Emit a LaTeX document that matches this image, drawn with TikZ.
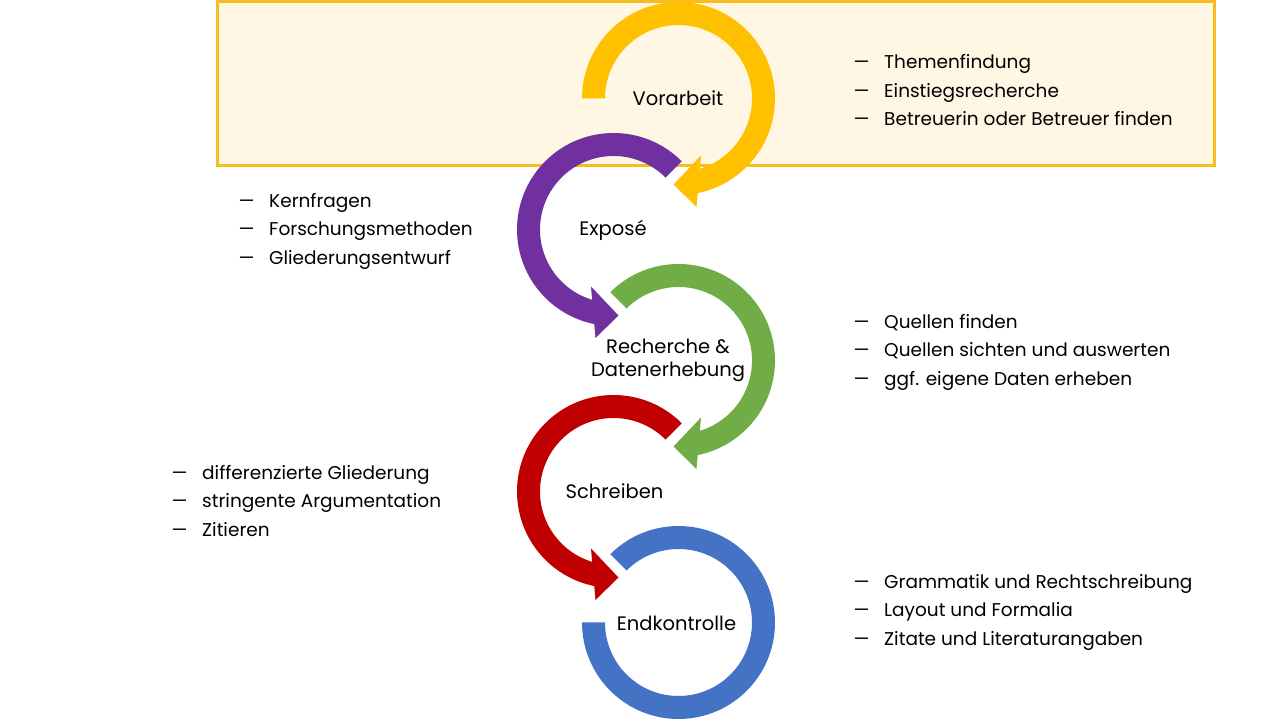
\documentclass[tikz,border=0pt]{standalone}
\usepackage{fontspec}
\setmainfont{Poppins}
\definecolor{cyellow}{HTML}{FFC000}
\definecolor{cpurple}{HTML}{7030A0}
\definecolor{cgreen}{HTML}{70AD47}
\definecolor{cred}{HTML}{C00000}
\definecolor{cblue}{HTML}{4472C4}
\definecolor{ccream}{HTML}{FFF6E3}
\definecolor{cborder}{HTML}{F5BD1F}
\newcommand\ringcw[3]{%
  \fill[#3,shift={#1}] (#2:96.5) arc[start angle=#2,end angle=-78.5,radius=96.5]
    -- (18,-108.5) -- (-5,-86) -- (22.5,-57) -- (-73.1:73.5)
    arc[start angle=-73.1,end angle=#2,radius=73.5] -- cycle;}
\newcommand\ringccw[3]{%
  \fill[#3,shift={#1}] (#2:96.5) arc[start angle=#2,end angle=258.5,radius=96.5]
    -- (-18,-108.5) -- (5,-86) -- (-22.5,-57) -- (253.1:73.5)
    arc[start angle=253.1,end angle=#2,radius=73.5] -- cycle;}
\newcommand\dashitem[1]{\makebox[31pt][l]{\scalebox{1.35}[1]{–}}#1}
\begin{document}
\begin{tikzpicture}[x=1pt,y=1pt,
  steplabel/.style={font=\fontsize{19.5}{23}\selectfont, align=center, inner sep=0, text=black},
  bullets/.style={font=\fontsize{18.5}{28.5}\selectfont, align=left, inner sep=0, anchor=west, text=black}]
\useasboundingbox (0,0) rectangle (1280,720);
\fill[white] (0,0) rectangle (1280,720);
\draw[cborder, line width=3, fill=ccream] (217,554.5) rectangle (1214,718.5);
% rings
\ringcw{(678.5,621.5)}{180}{cyellow}
\ringccw{(613.5,490.5)}{45}{cpurple}
\ringcw{(678.5,359.5)}{135}{cgreen}
\ringccw{(613.5,228.5)}{45}{cred}
\fill[cblue,shift={(678.5,97.5)}] (135:96.5) arc[start angle=135,end angle=-180,radius=96.5]
  -- (180:73.5) arc[start angle=-180,end angle=135,radius=73.5] -- cycle;
% labels
\node[steplabel] (vor) at (678,622) {Vorarbeit};
\node[steplabel] (exp) at (613,490) {Exposé};
\node[steplabel] (rec) at (668,359.5) {Recherche \&\\Datenerhebung};
\node[steplabel] (sch) at (614.5,229) {Schreiben};
\node[steplabel] (end) at (676.5,97) {Endkontrolle};
% bullet lists
\node[bullets] (l1) at (853,629.5) {\dashitem{Themenfindung}\\\dashitem{Einstiegsrecherche}\\\dashitem{Betreuerin oder Betreuer finden}};
\node[bullets] (l2) at (238,489) {\dashitem{Kernfragen}\\\dashitem{Forschungsmethoden}\\\dashitem{Gliederungsentwurf}};
\node[bullets] (l3) at (853,368) {\dashitem{Quellen finden}\\\dashitem{Quellen sichten und auswerten}\\\dashitem{ggf. eigene Daten erheben}};
\node[bullets] (l4) at (171,219) {\dashitem{differenzierte Gliederung}\\\dashitem{stringente Argumentation}\\\dashitem{Zitieren}};
\node[bullets] (l5) at (853,108) {\dashitem{Grammatik und Rechtschreibung}\\\dashitem{Layout und Formalia}\\\dashitem{Zitate und Literaturangaben}};
\end{tikzpicture}
\end{document}
